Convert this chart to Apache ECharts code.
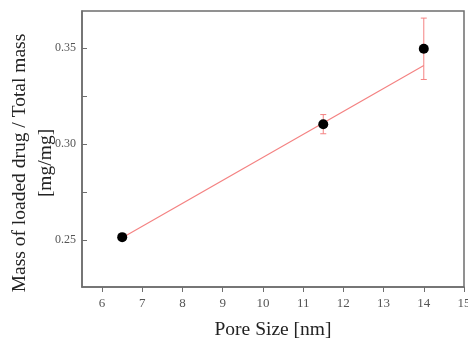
<!DOCTYPE html>
<html>
<head>
<meta charset="utf-8">
<script src="https://cdn.jsdelivr.net/npm/echarts@6/dist/echarts.min.js"></script>
<style>
  html, body { margin: 0; padding: 0; background: #fff; }
  #chart { width: 468px; height: 339px; }
</style>
</head>
<body>
<div id="chart"></div>
<script>
// Measured loading vs. pore size
const poreSize = [6.5, 11.5, 14];
const massRatio = [0.2515, 0.3104, 0.3497];
const massError = [0, 0.005, 0.016];

// Fitted trend line (end points)
const fitX = [6.5, 14];
const fitY = [0.2512, 0.3410];

// Axis tick labels
const xTicks = [6, 7, 8, 9, 10, 11, 12, 13, 14, 15];
const yTicks = [0.25, 0.30, 0.35];
const yTicksAll = [0.25, 0.275, 0.30, 0.325, 0.35];

const serif = '"Liberation Serif", "Times New Roman", serif';
const axisColor = '#6e6e6e';
const redLine = '#f48282';

const chart = echarts.init(document.getElementById('chart'), null, { renderer: 'canvas' });

const option = {
  animation: false,
  backgroundColor: '#fff',
  grid: {
    left: 82, right: 4, top: 11, bottom: 52,
    outerBoundsMode: 'none',
    containLabel: false,
    show: true, borderColor: axisColor, borderWidth: 1.5, backgroundColor: 'transparent'
  },
  xAxis: {
    type: 'value',
    min: 5.5, max: 15,
    splitLine: { show: false },
    axisLine: { onZero: false, lineStyle: { color: axisColor, width: 1.5 } },
    axisTick: { inside: false, length: 5, lineStyle: { color: axisColor }, customValues: xTicks },
    axisLabel: {
      customValues: xTicks, margin: 10,
      color: '#555', fontFamily: serif, fontSize: 13
    },
    name: 'Pore Size [nm]',
    nameLocation: 'middle',
    nameGap: 33,
    nameTextStyle: { fontFamily: serif, fontSize: 19.5, color: '#222' }
  },
  yAxis: {
    type: 'value',
    min: 0.2255, max: 0.3694,
    splitLine: { show: false },
    axisLine: { onZero: false, lineStyle: { color: axisColor, width: 1.5 } },
    axisTick: { inside: true, length: 5, lineStyle: { color: axisColor }, customValues: yTicksAll },
    axisLabel: {
      customValues: yTicks, margin: 6,
      color: '#555', fontFamily: serif, fontSize: 12,
      formatter: v => v.toFixed(2)
    }
  },
  graphic: [{
    type: 'text',
    x: 33, y: 163,
    rotation: Math.PI / 2,
    style: {
      text: 'Mass of loaded drug / Total mass\n[mg/mg]',
      fontFamily: serif, fontSize: 19.5, fill: '#222',
      textAlign: 'center', textVerticalAlign: 'middle',
      lineHeight: 26
    }
  }],
  series: [
    {
      type: 'line',
      data: fitX.map((x, i) => [x, fitY[i]]),
      symbol: 'none',
      lineStyle: { color: redLine, width: 1.2 },
      z: 2
    },
    {
      type: 'custom',
      data: poreSize.map((x, i) => [x, massRatio[i] - massError[i], massRatio[i] + massError[i]]),
      renderItem: function (params, api) {
        const lo = api.coord([api.value(0), api.value(1)]);
        const hi = api.coord([api.value(0), api.value(2)]);
        const cap = 3;
        const st = { stroke: redLine, lineWidth: 1 };
        return {
          type: 'group',
          children: [
            { type: 'line', shape: { x1: lo[0], y1: lo[1], x2: hi[0], y2: hi[1] }, style: st },
            { type: 'line', shape: { x1: lo[0] - cap, y1: lo[1], x2: lo[0] + cap, y2: lo[1] }, style: st },
            { type: 'line', shape: { x1: hi[0] - cap, y1: hi[1], x2: hi[0] + cap, y2: hi[1] }, style: st }
          ]
        };
      },
      z: 3
    },
    {
      type: 'scatter',
      data: poreSize.map((x, i) => [x, massRatio[i]]),
      symbol: 'circle',
      symbolSize: 10,
      itemStyle: { color: '#000', opacity: 1 },
      z: 4
    }
  ]
};

chart.setOption(option);
</script>
</body>
</html>
